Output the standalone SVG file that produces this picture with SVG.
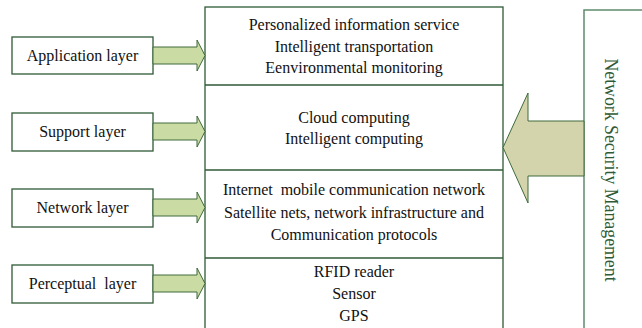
<svg xmlns="http://www.w3.org/2000/svg" width="642" height="328" viewBox="0 0 642 328" font-family="'Liberation Serif', 'Times New Roman', 'DejaVu Serif', serif">
<style>
.box{fill:#fff;stroke:#2f5a36;stroke-width:1.3}
.t{font-family:'Liberation Serif','Times New Roman','DejaVu Serif',serif;font-size:16px;fill:#111;text-anchor:middle}
.arr{fill:#cadca4;stroke:#3f6a3a;stroke-width:1}
.big{fill:#d4d4ac;stroke:#3f6a3a;stroke-width:1}
</style>
<rect width="642" height="328" fill="#fff"/>
<g id="security">
<rect x="584" y="10" width="70" height="330" fill="#fff" stroke="#5f8a6c" stroke-width="1.5"/>
<text transform="translate(605,170) rotate(90)" class="t" style="fill:#2f5a36;font-size:17.8px">Network Security Management</text>
</g>
<g id="layers">
<rect class="box" x="205" y="7" width="298" height="330"/>
<line class="box" x1="205" y1="85" x2="503" y2="85"/>
<line class="box" x1="205" y1="170" x2="503" y2="170"/>
<line class="box" x1="205" y1="258" x2="503" y2="258"/>
<text class="t" x="354" y="30">Personalized information service</text>
<text class="t" x="354" y="52">Intelligent transportation</text>
<text class="t" x="354" y="73">Eenvironmental monitoring</text>
<text class="t" x="354" y="123">Cloud computing</text>
<text class="t" x="354" y="144">Intelligent computing</text>
<text class="t" x="354" y="195" xml:space="preserve">Internet  mobile communication network</text>
<text class="t" x="354" y="218">Satellite nets, network infrastructure and</text>
<text class="t" x="354" y="240">Communication protocols</text>
<text class="t" x="354" y="277">RFID reader</text>
<text class="t" x="354" y="299">Sensor</text>
<text class="t" x="354" y="321">GPS</text>
</g>
<g id="app"><rect class="box" x="12" y="37" width="141" height="37"/><text class="t" x="82.500" y="61">Application layer</text></g>
<g id="support"><rect class="box" x="12" y="113" width="141" height="38"/><text class="t" x="82.500" y="137">Support layer</text></g>
<g id="network"><rect class="box" x="12" y="189" width="141" height="38"/><text class="t" x="82.500" y="213">Network layer</text></g>
<g id="perceptual"><rect class="box" x="12" y="265" width="141" height="38"/><text class="t" x="82.500" y="289" xml:space="preserve">Perceptual  layer</text></g>
<g id="connectors">
<path class="arr" d="M153,47 H197 V40 L205,55.500 L197,71 V64 H153 Z"/>
<path class="arr" d="M153,123 H197 V116 L205,131.500 L197,147 V140 H153 Z"/>
<path class="arr" d="M153,199 H197 V192 L205,207.500 L197,223 V216 H153 Z"/>
<path class="arr" d="M153,275 H197 V268 L205,283.500 L197,299 V292 H153 Z"/>
<path class="big" d="M584,121 H528 V93 L503,147.500 L528,203 V176 H584 Z"/>
</g>
</svg>
